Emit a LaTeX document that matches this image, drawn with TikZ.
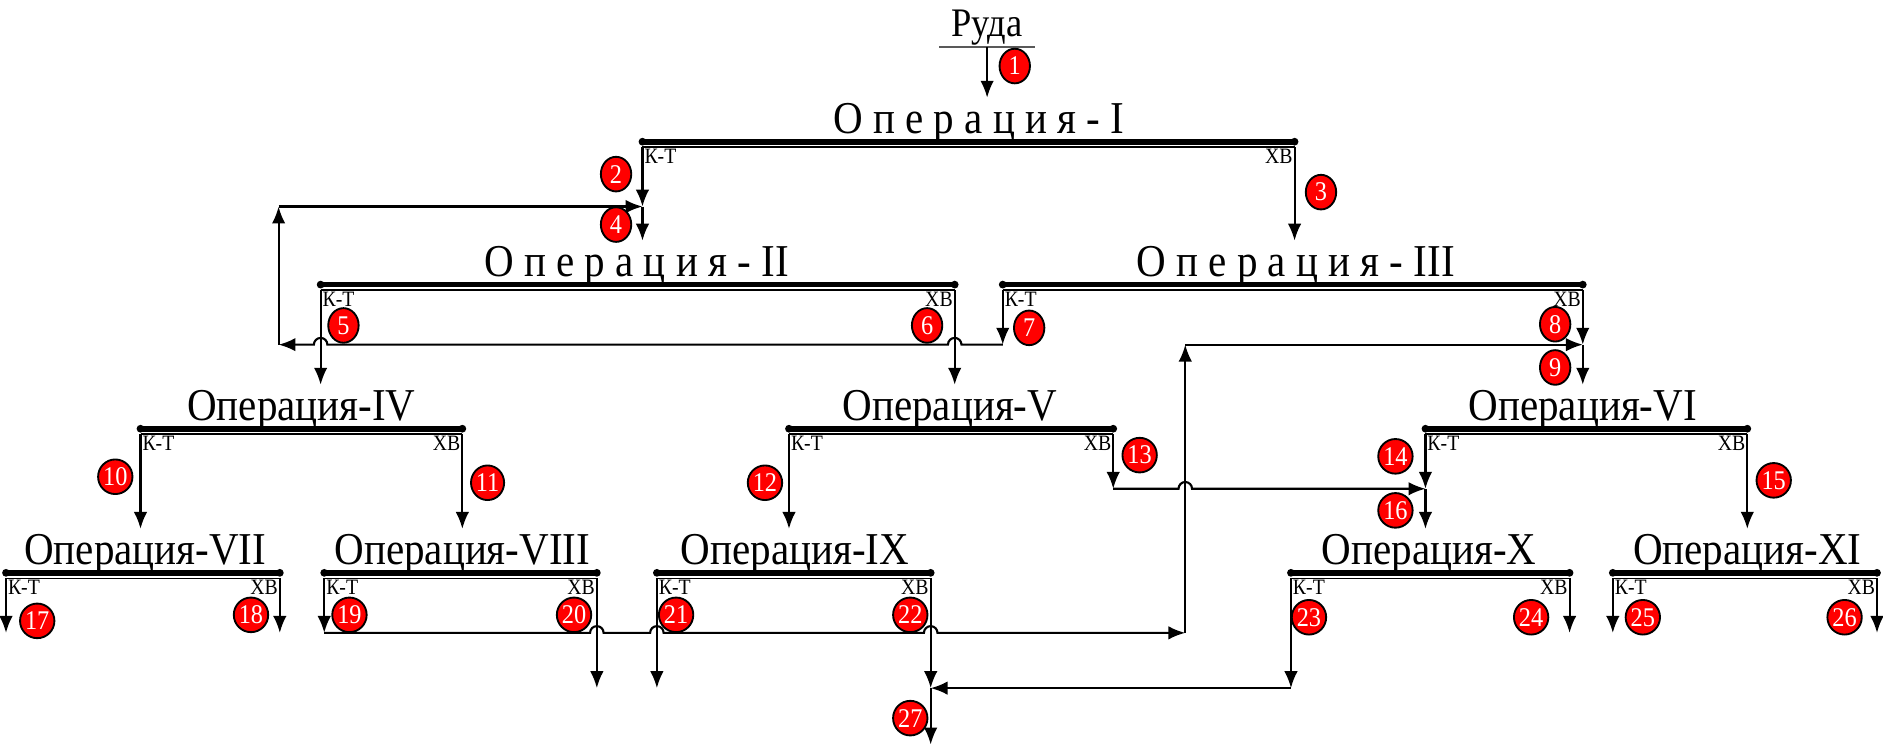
\documentclass[tikz,border=0pt]{standalone}
\usepackage{fontspec}
\setmainfont{Liberation Serif}[FakeStretch=0.9]
\usetikzlibrary{arrows.meta,positioning,shapes.geometric,calc}

\tikzset{
  optitle/.style={anchor=base, inner sep=3pt, font=\fontsize{27}{30}\selectfont},
  opbar/.style={line width=3.4pt, line cap=round},
  opline/.style={line width=0.8pt},
  tag/.style={inner sep=1pt, font=\fontsize{13}{14}\selectfont},
  badge/.style={ellipse, draw=black, line width=1.1pt, fill=red, text=white,
                minimum width=18pt, minimum height=20.5pt, inner sep=0pt,
                font=\fontsize{16}{16}\selectfont},
  flow/.style={-{Latex[length=10pt,width=8pt]}, line width=1.25pt},
}

\begin{document}
\begin{tikzpicture}[x=0.025cm, y=0.025cm]
  \useasboundingbox (0,0) rectangle (1568,-624);

  % feed
  \node[anchor=base, inner xsep=7pt, inner ysep=1pt,
        font=\fontsize{24}{26}\selectfont] (ore) at (822,-30) {Руда};
  \draw[gray!70!black, line width=1pt] (ore.south west) -- (ore.south east);

  % operations: number / left / right / bar level / title centre / title
  \foreach \n/\a/\b/\y/\c/\t in {
      1/535/1078/118/815/{О п е р а ц и я - I},
      2/267/795/237/530/{О п е р а ц и я - II},
      3/835/1318/237/1079/{О п е р а ц и я - III},
      4/117/385/357/251/{Операция-IV},
      5/657/927/357/791/{Операция-V},
      6/1187/1455/357/1318/{Операция-VI},
      7/5/233/477/121/{Операция-VII},
      8/270/497/477/385/{Операция-VIII},
      9/547/775/477/662/{Операция-IX},
      10/1075/1307/477/1190/{Операция-X},
      11/1343/1563/477/1455/{Операция-XI}}{
    \node[optitle] (op\n) at (\c,-\y+7) {\t};
    \draw[opbar] (\a,-\y) -- (\b,-\y);
    \fill (\a,-\y) circle (2.3pt) (\b,-\y) circle (2.3pt);
    \draw[opline] (\a,-\y-4.5) coordinate (op\n kt) -- (\b,-\y-4.5) coordinate (op\n xb);
    \node[tag, below right=0pt of op\n kt] (op\n ktl) {К-Т};
    \node[tag, below left=0pt of op\n xb] (op\n xbl) {ХВ};
  }

  % turning points
  \coordinate (loopTop) at (232,-172);
  \coordinate (loopBot) at (232,-287);
  \coordinate (j24) at (op1kt |- loopTop);
  \coordinate (m7) at (op3kt |- loopBot);
  \coordinate (j89) at (op3xb |- loopBot);
  \coordinate (riseBot) at (987,-527);
  \coordinate (riseTop) at (riseBot |- loopBot);
  \coordinate (lvl13) at (0,-407);
  \coordinate (m13) at (op5xb |- lvl13);
  \coordinate (j1416) at (op6kt |- lvl13);
  \coordinate (m19) at (op8kt |- riseBot);
  \coordinate (lvl27) at (0,-573);
  \coordinate (j2227) at (op9xb |- lvl27);
  \coordinate (m23) at (op10kt |- lvl27);
  \coordinate (lvlEnd) at (0,-620);
  \coordinate (out27) at (op9xb |- lvlEnd);

  % upper part
  \draw[flow] (ore.south) -- (ore.south |- op1.north);
  \draw[flow] (op1kt) -- (j24);
  \draw[flow] (j24) -- (op1kt |- op2.north);
  \draw[flow] (op1xb) -- (op1xb |- op3.north);
  \draw[flow] (op2kt) -- (op2kt |- op4.north);
  \draw[flow] (op2xb) -- (op2xb |- op5.north);
  \draw[flow] (op3kt) -- (m7);
  \draw[flow] (op3xb) -- (j89);
  \draw[flow] (j89) -- (op3xb |- op6.north);
  \draw[flow] (m7) -- ($(op2xb |- m7)+(4pt,0)$) arc[start angle=0, end angle=180, radius=4pt]
    -- ($(op2kt |- m7)+(4pt,0)$) arc[start angle=0, end angle=180, radius=4pt] -- (loopBot);
  \draw[flow] (loopBot) -- (loopTop);
  \draw[flow] (loopTop) -- (j24);

  % middle part
  \draw[flow] (op4kt) -- (op4kt |- op7.north);
  \draw[flow] (op4xb) -- (op4xb |- op8.north);
  \draw[flow] (op5kt) -- (op5kt |- op9.north);
  \draw[flow] (op5xb) -- (m13);
  \draw[flow] (m13) -- ($(riseBot |- m13)-(4pt,0)$) arc[start angle=180, end angle=0, radius=4pt] -- (j1416);
  \draw[flow] (op6kt) -- (j1416);
  \draw[flow] (j1416) -- (op6kt |- op10.north);
  \draw[flow] (op6xb) -- (op6xb |- op11.north);

  % lower part
  \draw[flow] (op7kt) -- (op7kt |- riseBot);
  \draw[flow] (op7xb) -- (op7xb |- riseBot);
  \draw[flow] (op8kt) -- (m19);
  \draw[flow] (m19) -- ($(op8xb |- m19)-(4pt,0)$) arc[start angle=180, end angle=0, radius=4pt]
    -- ($(op9kt |- m19)-(4pt,0)$) arc[start angle=180, end angle=0, radius=4pt]
    -- ($(op9xb |- m19)-(4pt,0)$) arc[start angle=180, end angle=0, radius=4pt] -- (riseBot);
  \draw[flow] (riseBot) -- (riseTop);
  \draw[flow] (riseTop) -- (j89);
  \draw[flow] (op8xb) -- (op8xb |- j2227);
  \draw[flow] (op9kt) -- (op9kt |- j2227);
  \draw[flow] (op9xb) -- (j2227);
  \draw[flow] (j2227) -- (out27);
  \draw[flow] (op10kt) -- (m23);
  \draw[flow] (m23) -- (j2227);
  \draw[flow] (op10xb) -- (op10xb |- riseBot);
  \draw[flow] (op11kt) -- (op11kt |- riseBot);
  \draw[flow] (op11xb) -- (op11xb |- riseBot);

  % stream numbers
  \foreach \n/\x/\y in {1/845/55, 2/513/145, 3/1100/160, 4/513/187, 5/286/271,
      6/772/271, 7/857/273, 8/1295/270, 9/1295/306, 10/96/397, 11/406/402,
      12/637/402, 13/949/379, 14/1162/380, 15/1477/400, 16/1162/425,
      17/31/517, 18/209/512, 19/291/512, 20/478/512, 21/563/512, 22/758/512,
      23/1090/514, 24/1275/514, 25/1368/514, 26/1536/514, 27/758/598}
    \node[badge] (b\n) at (\x,-\y) {\n};
\end{tikzpicture}
\end{document}
